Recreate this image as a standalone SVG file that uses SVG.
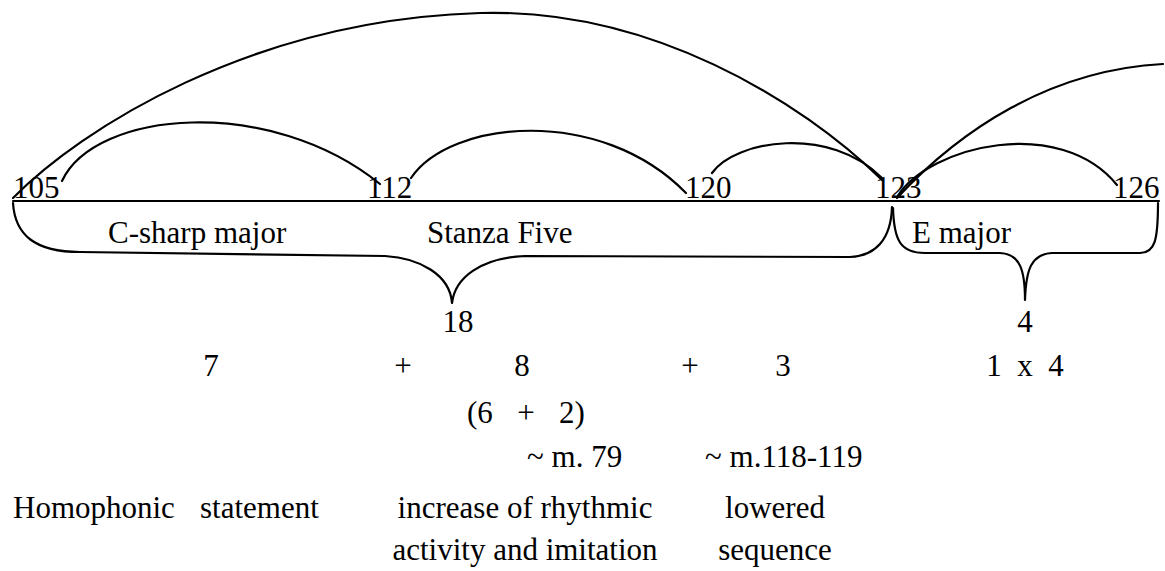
<svg xmlns="http://www.w3.org/2000/svg" width="1165" height="571" viewBox="0 0 1165 571" font-family="'Liberation Serif', 'DejaVu Serif', 'Times New Roman', serif">
<style>
  text { font-family: 'Liberation Serif', 'DejaVu Serif', 'Times New Roman', serif; font-size: 31px; fill: #000; }
  .c { text-anchor: middle; }
  .ln { fill: none; stroke: #000; stroke-width: 2.2; stroke-linecap: round; stroke-linejoin: round; }
</style>
<rect width="1165" height="571" fill="#fff"/>
<g id="connectors">
  <path class="ln" d="M13,201 H1159"/>
  <path class="ln" d="M13,198 C 80,130 250,20 480,13 C 650,8 800,100 882,180"/>
  <path class="ln" d="M62,181 C 95,110 270,95 380,184"/>
  <path class="ln" d="M411,178 C 450,120 600,105 686,193"/>
  <path class="ln" d="M712,173 C 735,140 830,125 882,178"/>
  <path class="ln" d="M897,197 C 930,145 1060,115 1117,185"/>
  <path class="ln" d="M897,198 C 960,130 1050,70 1163,64"/>
  <path class="ln" d="M13,203 C 15,235 35,252 80,252 L 385,256 C 420,258 450,275 452,303 C 455,278 480,258 525,256 L 850,257 C 875,256 891,240 892,207"/>
  <path class="ln" d="M893,208 C 894,240 900,253 925,253 L 1000,253 C 1020,254 1025,270 1025,300 C 1026,270 1031,254 1052,253 L 1140,253 C 1155,253 1158,240 1158,203"/>
</g>
<g id="m105"><text x="13" y="198" font-family="'Liberation Serif', serif">105</text></g>
<g id="m112"><text x="367" y="198" font-family="'Liberation Serif', serif">112</text></g>
<g id="m120"><text x="685" y="198" font-family="'Liberation Serif', serif">120</text></g>
<g id="m123"><text x="875" y="198" font-family="'Liberation Serif', serif">123</text></g>
<g id="m126"><text x="1113" y="198" font-family="'Liberation Serif', serif">126</text></g>
<g id="keys" font-family="'Liberation Serif', serif">
  <text x="108" y="243">C-sharp major</text>
  <text x="427" y="243">Stanza Five</text>
  <text x="912" y="243">E major</text>
</g>
<g id="totals" font-family="'Liberation Serif', serif">
  <text class="c" x="458" y="332">18</text>
  <text class="c" x="1025" y="332">4</text>
</g>
<g id="sums" font-family="'Liberation Serif', serif">
  <text class="c" x="211" y="376">7</text>
  <text class="c" x="403" y="376">+</text>
  <text class="c" x="522" y="376">8</text>
  <text class="c" x="690" y="376">+</text>
  <text class="c" x="783" y="376">3</text>
  <text class="c" x="994" y="376">1</text>
  <text class="c" x="1025" y="376">x</text>
  <text class="c" x="1056" y="376">4</text>
  <text x="467" y="423">(6</text>
  <text class="c" x="526" y="423">+</text>
  <text x="559" y="423">2)</text>
</g>
<g id="refs" font-family="'Liberation Serif', serif">
  <text x="527" y="467">~ m. 79</text>
  <text x="705" y="467">~ m.118-119</text>
</g>
<g id="descriptions" font-family="'Liberation Serif', serif">
  <text x="13" y="518">Homophonic</text>
  <text x="200" y="518">statement</text>
  <text class="c" x="525" y="518">increase of rhythmic</text>
  <text class="c" x="775" y="518">lowered</text>
  <text class="c" x="525" y="560">activity and imitation</text>
  <text class="c" x="775" y="560">sequence</text>
</g>
</svg>
